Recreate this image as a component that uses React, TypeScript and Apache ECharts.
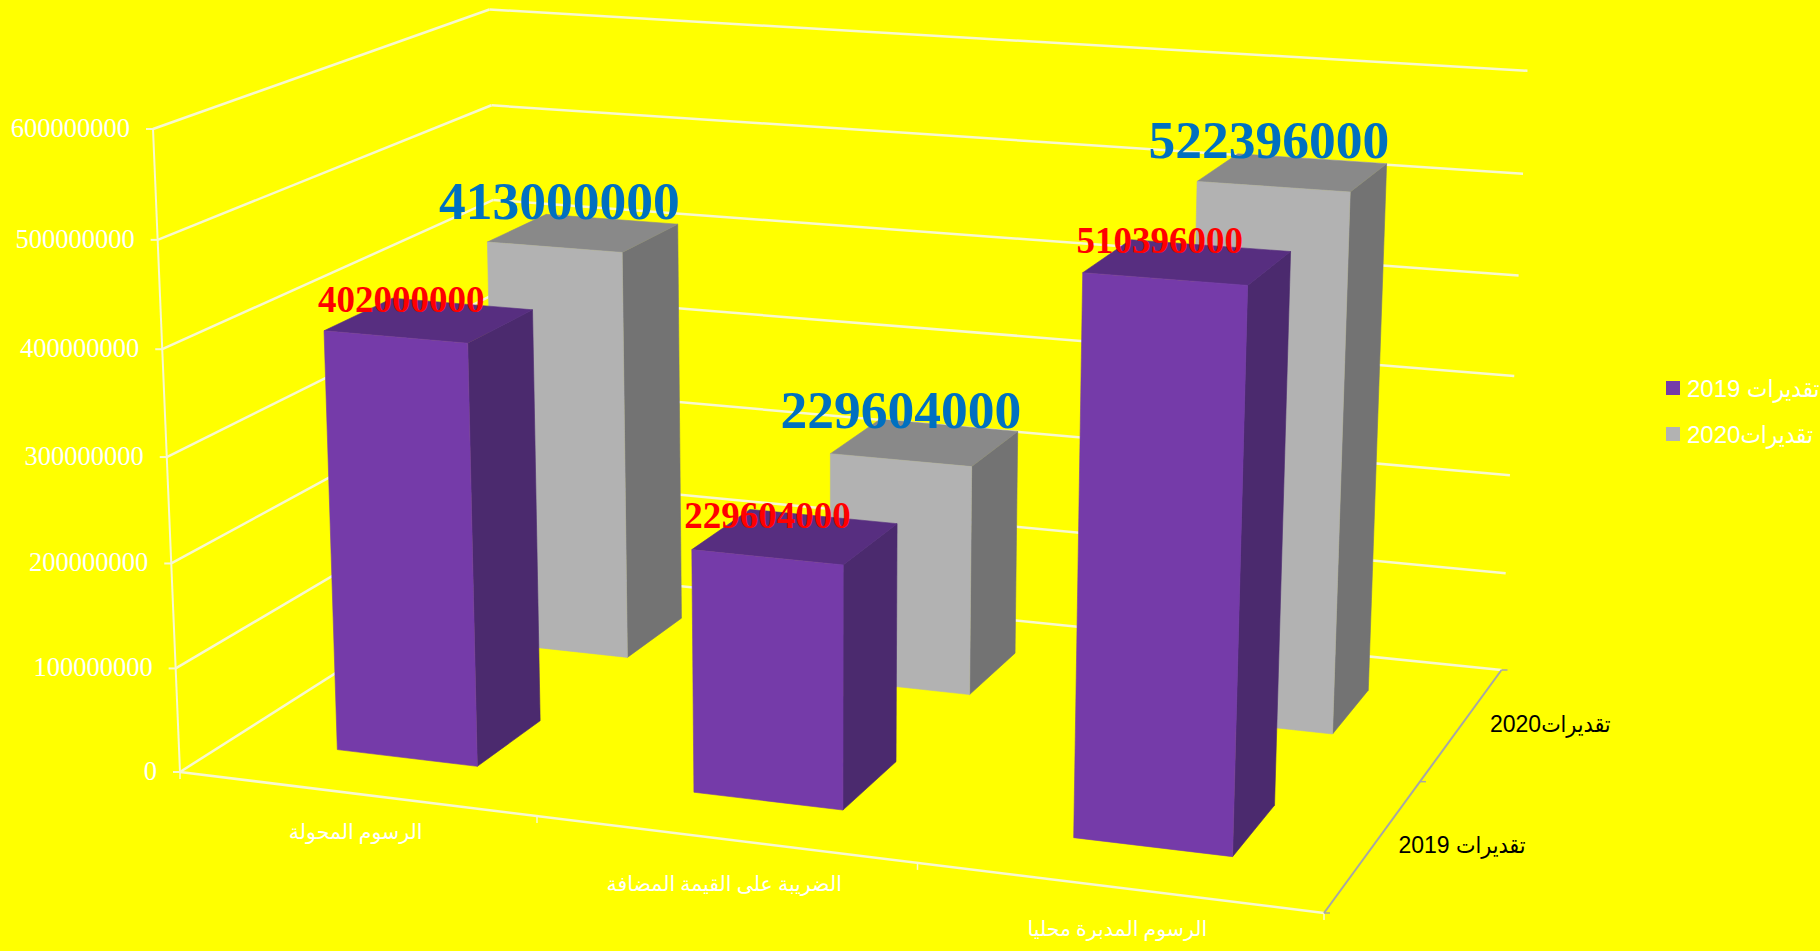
import React, { useEffect, useRef } from "react";
import * as echarts from "echarts";

const categories = ["الرسوم المحولة", "الضريبة على القيمة المضافة", "الرسوم المدبرة محليا"];
const estimates2019 = [402000000, 229604000, 510396000];
const estimates2020 = [413000000, 229604000, 522396000];
const valueTicks = [0, 100000000, 200000000, 300000000, 400000000, 500000000, 600000000];
const depthLabels = ["تقديرات 2019", "تقديرات2020"];

// Perspective camera: floor/wall corners on the page plus the foreshortening weights.
const O = [180, 772];
const X = [1324, 913];
const Y = [153, 129];
const BR = [1501.5, 670];
const A = -0.0928;
const B = -0.04;
const C = 0.16;
const TILT = 0.009;
const Z = [
  (BR[0] * (1 + A + C) - X[0] * (1 + A) + O[0]) / (1 + C),
  (BR[1] * (1 + A + C) - X[1] * (1 + A) + O[1]) / (1 + C),
];
const project = (u: number, height: number, w: number): number[] => {
  const v = height * (1 - TILT * u);
  const den = 1 + A * u + B * v + C * w;
  return [0, 1].map(
    (i) =>
      (O[i] +
        u * (X[i] * (1 + A) - O[i]) +
        v * (Y[i] * (1 + B) - O[i]) +
        w * (Z[i] * (1 + C) - O[i])) /
      den,
  );
};

const GRID = "#f8f8d0";
const SERIF = '"Liberation Serif", "DejaVu Sans", serif';
const SANS = '"Liberation Sans", "DejaVu Sans Condensed", "DejaVu Sans", sans-serif';

const line = (a: number[], b: number[], stroke: string, lineWidth: number) => ({
  type: "line",
  shape: { x1: a[0], y1: a[1], x2: b[0], y2: b[1] },
  style: { stroke, lineWidth },
  silent: true,
});
const label = (
  text: string,
  p: number[],
  fill: string,
  fontSize: number,
  fontFamily: string,
  fontWeight = "normal",
  align = "center",
) => ({
  type: "text",
  silent: true,
  style: { text, x: p[0], y: p[1], fill, fontSize, fontFamily, fontWeight, align, verticalAlign: "middle" },
});
const face = (pts: number[][], fill: string) => ({
  type: "polygon",
  silent: true,
  shape: { points: pts },
  style: { fill, stroke: fill, lineWidth: 0.6 },
});

const barSeries = (
  name: string,
  values: number[],
  depth: number,
  colors: { front: string; side: string; top: string },
) => ({
  type: "custom",
  name,
  coordinateSystem: "cartesian2d",
  itemStyle: { color: colors.front },
  clip: false,
  silent: true,
  z: 3 + (1 - depth),
  data: values.map((v, i) => [i, v]),
  renderItem: (params: any, api: any) => {
    const cs = params.coordSys;
    const c = api.coord([api.value(0), api.value(1)]);
    const band = api.size([1, 0])[0];
    const uc = c[0] / cs.width;
    const ub = 0.2 * (band / cs.width);
    const v = 1 - c[1] / cs.height;
    const u0 = uc - ub;
    const u1 = uc + ub;
    const w0 = (depth + 0.3) / 2;
    const w1 = (depth + 0.7) / 2;
    return {
      type: "group",
      children: [
        face([project(u1, 0, w0), project(u1, 0, w1), project(u1, v, w1), project(u1, v, w0)], colors.side),
        face([project(u0, v, w0), project(u1, v, w0), project(u1, v, w1), project(u0, v, w1)], colors.top),
        face([project(u0, 0, w0), project(u1, 0, w0), project(u1, v, w0), project(u0, v, w0)], colors.front),
      ],
    };
  },
});

const valueLabelSeries = (
  values: number[],
  depth: number,
  text: { fill: string; size: number; dx: number; dy: number },
) => ({
  type: "custom",
  coordinateSystem: "cartesian2d",
  clip: false,
  silent: true,
  z: 8,
  data: values.map((v, i) => [i, v]),
  renderItem: (params: any, api: any) => {
    const cs = params.coordSys;
    const c = api.coord([api.value(0), api.value(1)]);
    const p = project(c[0] / cs.width, 1 - c[1] / cs.height, (depth + 0.5) / 2);
    return label(String(api.value(1)), [p[0] + text.dx, p[1] + text.dy], text.fill, text.size, SERIF, "bold");
  },
});

const frameSeries = {
  type: "custom",
  coordinateSystem: "cartesian2d",
  clip: false,
  silent: true,
  z: 1,
  data: valueTicks.map((t) => [0, t]),
  renderItem: (params: any, api: any) => {
    const v = 1 - api.coord([0, api.value(1)])[1] / params.coordSys.height;
    const a = project(0, v, 0);
    return {
      type: "group",
      children: [
        line(a, project(0, v, 1), GRID, 2.5),
        line(project(0, v, 1), project(1, v, 1), GRID, 2.5),
        line([a[0] - 7, a[1]], a, GRID, 2),
        label(String(api.value(1)), [a[0] - 23, a[1] - 1], "#ffffff", 26.5, SERIF, "normal", "right"),
      ],
    };
  },
};

const axisSeries = {
  type: "custom",
  coordinateSystem: "cartesian2d",
  clip: false,
  silent: true,
  z: 2,
  data: [[0, 0]],
  renderItem: () => {
    const ticks = [0, 1, 2, 3].map((i) => {
      const p = project(i / 3, 0, 0);
      return line(p, [p[0], p[1] + 7], GRID, 1.5);
    });
    const depthTicks = [0, 1, 2].map((i) => {
      const p = project(1, 0, i / 2);
      return line(p, [p[0] + 6, p[1]], "#a6a6a6", 1.5);
    });
    return {
      type: "group",
      children: [
        line(project(0, 0, 0), project(0, 1, 0), GRID, 2),
        line(project(0, 0, 0), project(1, 0, 0), GRID, 2.5),
        line(project(1, 0, 0), project(1, 0, 1), "#a6a6a6", 2),
        ...ticks,
        ...depthTicks,
      ],
    };
  },
};

const categoryNudge = [38, 45, 41];
const categorySeries = {
  type: "custom",
  coordinateSystem: "cartesian2d",
  clip: false,
  silent: true,
  z: 2,
  data: categories.map((_, i) => [i, 0]),
  renderItem: (params: any, api: any) => {
    const i = api.value(0);
    const c = api.coord([i, 0]);
    const p = project(c[0] / params.coordSys.width, 0, 0);
    return label(categories[i], [p[0], p[1] + categoryNudge[i]], "#ffffff", 20.5, SERIF);
  },
};

const depthLabelSeries = {
  type: "custom",
  coordinateSystem: "cartesian2d",
  clip: false,
  silent: true,
  z: 2,
  data: depthLabels.map((_, i) => [i, 0]),
  renderItem: (_params: any, api: any) => {
    const i = api.value(0);
    const p = project(1, 0, (i + 0.5) / 2);
    return label(depthLabels[i], [p[0] + 88, p[1]], "#000000", 23, SANS);
  },
};

export default function App() {
  const ref = useRef<HTMLDivElement>(null);
  useEffect(() => {
    const chart = echarts.init(ref.current!, undefined, { renderer: "svg" });
    chart.setOption({
      animation: false,
      backgroundColor: "#ffff00",
      grid: { left: 0, right: 0, top: 0, bottom: 0 },
      xAxis: { type: "category", data: categories, show: false },
      yAxis: { type: "value", min: 0, max: 600000000, show: false },
      legend: {
        orient: "vertical",
        left: 1666,
        top: 373,
        padding: 0,
        itemWidth: 14,
        itemHeight: 14,
        itemGap: 16,
        icon: "rect",
        data: depthLabels,
        textStyle: { color: "#ffffff", fontSize: 24, fontFamily: SANS, lineHeight: 30, padding: [0, 0, 0, 2] },
      },
      series: [
        frameSeries,
        axisSeries,
        categorySeries,
        depthLabelSeries,
        barSeries(depthLabels[1], estimates2020, 1, { front: "#b2b2b2", side: "#737373", top: "#898989" }),
        barSeries(depthLabels[0], estimates2019, 0, { front: "#753ba9", side: "#4b2a6e", top: "#572e80" }),
        valueLabelSeries(estimates2020, 1, { fill: "#0070c0", size: 53.5, dx: -24, dy: -32 }),
        valueLabelSeries(estimates2019, 0, { fill: "#ff0000", size: 37, dx: -28, dy: -21 }),
      ],
    });
    return () => chart.dispose();
  }, []);
  return <div ref={ref} style={{ position: "fixed", left: 0, top: 0, width: 1820, height: 951 }} />;
}
